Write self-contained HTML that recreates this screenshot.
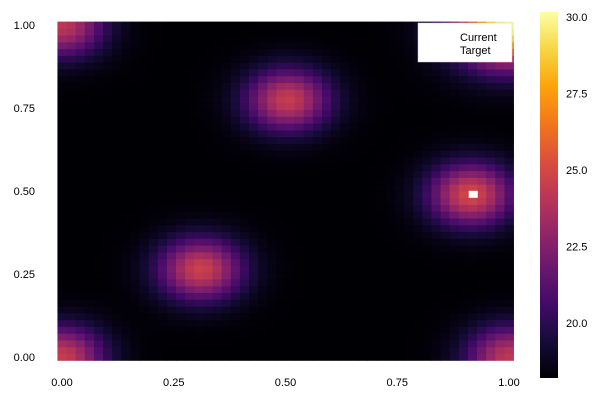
<!DOCTYPE html>
<html><head><meta charset="utf-8"><style>
html,body{margin:0;padding:0;background:#fff;}
svg{display:block;font-family:"Liberation Sans","DejaVu Sans",sans-serif;}
</style></head><body>
<svg id="chart" width="600" height="400">
<g id="cells"></g>
<g id="axes"></g>
<defs><linearGradient id="cbgrad" x1="0" y1="1" x2="0" y2="0"></linearGradient></defs>
<rect x="540" y="12" width="18" height="366" fill="url(#cbgrad)"/>
<g id="cbticks"></g>
<g>
<rect x="418" y="23" width="94" height="39" fill="#fff" stroke="#ccc" stroke-width="0.5"/>
<text x="460" y="41" font-size="11" fill="#000">Current</text>
<text x="460" y="54" font-size="11" fill="#000">Target</text>
</g>
</svg>
<script>
// Peak data
const peakX = [0.31, 0.505, 0.915, 0.0, 0.0, 1.0, 1.0];
const peakY = [0.265, 0.775, 0.49, 0.0, 1.0, 0.0, 1.0];
const peakAmp = [6.5, 6.3, 6.8, 6.3, 6.0, 6.0, 11.9];
const peakSigma = [0.066, 0.066, 0.066, 0.066, 0.066, 0.066, 0.085];
const baseValue = 18.14;
const nGrid = 50;
const xTicks = [0, 0.25, 0.5, 0.75, 1.0];
const xTickLabels = ["0.00", "0.25", "0.50", "0.75", "1.00"];
const yTicks = [0, 0.25, 0.5, 0.75, 1.0];
const yTickLabels = ["0.00", "0.25", "0.50", "0.75", "1.00"];
const cbTicks = [20.0, 22.5, 25.0, 27.5, 30.0];
const cbTickLabels = ["20.0", "22.5", "25.0", "27.5", "30.0"];
const currentPoint = [0.92, 0.49];
const cMin = 18.14, cMax = 30.16;

const sx = v => 62 + v * 447;
const sy = v => 357 - v * 332;
const cy = v => 17 + (30 - v) * 30.6;

const inferno = ["#000004","#160b39","#420a68","#6a176e","#932667","#bc3754","#dd513a","#f37819","#fca50a","#f6d746","#fcffa4"];
function hex(h){return [parseInt(h.slice(1,3),16),parseInt(h.slice(3,5),16),parseInt(h.slice(5,7),16)];}
function cmap(t){
  t=Math.max(0,Math.min(1,t));
  const p=t*10, i=Math.min(9,Math.floor(p)), f=p-i;
  const a=hex(inferno[i]), b=hex(inferno[i+1]);
  return `rgb(${a.map((v,k)=>Math.round(v+(b[k]-v)*f)).join(',')})`;
}
const NS="http://www.w3.org/2000/svg";
function el(tag, attrs, parent){
  const e=document.createElementNS(NS,tag);
  for(const k in attrs) e.setAttribute(k,attrs[k]);
  parent.appendChild(e); return e;
}
const cells=document.getElementById('cells');
const dx=447/(nGrid-1), dy=332/(nGrid-1);
for(let i=0;i<nGrid;i++){
  for(let j=0;j<nGrid;j++){
    const x=i/(nGrid-1), y=j/(nGrid-1);
    let z=baseValue;
    for(let p=0;p<peakX.length;p++){
      const d2=(x-peakX[p])**2+(y-peakY[p])**2;
      z+=peakAmp[p]*Math.exp(-d2/(2*peakSigma[p]**2));
    }
    const r=el('rect',{x:(sx(x)-dx/2).toFixed(2),y:(sy(y)-dy/2).toFixed(2),width:(dx+0.4).toFixed(2),height:(dy+0.4).toFixed(2),fill:cmap((z-cMin)/(cMax-cMin))},cells);
    
    
  }
}
const cur=el('rect',{x:sx(currentPoint[0])-4.5,y:sy(currentPoint[1])-3.5,width:9,height:7,fill:"#fff"},cells);



const axes=document.getElementById('axes');
xTicks.forEach((v,k)=>{
  const t=el('text',{x:sx(v),y:386,'font-size':11,'text-anchor':'middle',fill:'#000'},axes);
  t.textContent=xTickLabels[k];
  
  
});
yTicks.forEach((v,k)=>{
  const t=el('text',{x:35,y:sy(v)+4,'font-size':11,'text-anchor':'end',fill:'#000'},axes);
  t.textContent=yTickLabels[k];
  
  
});
const grad=document.getElementById('cbgrad');
for(let i=0;i<=20;i++){
  el('stop',{offset:(i/20),'stop-color':cmap(i/20)},grad);
}
const cbt=document.getElementById('cbticks');
cbTicks.forEach((v,k)=>{
  const t=el('text',{x:566,y:cy(v)+4,'font-size':11,fill:'#000'},cbt);
  t.textContent=cbTickLabels[k];
  
  
});
</script>
</body></html>
